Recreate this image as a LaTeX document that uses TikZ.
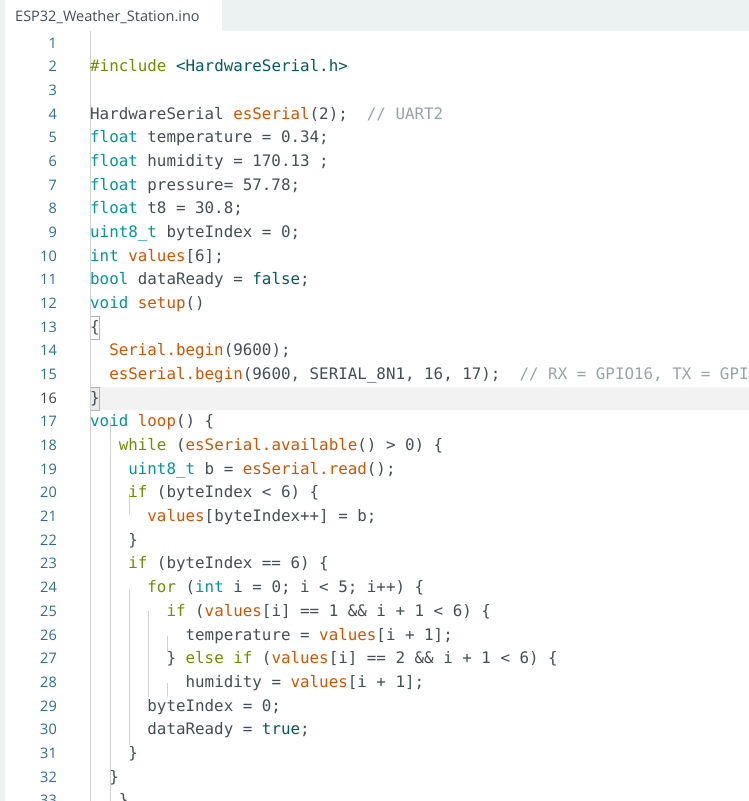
\documentclass[tikz,border=0pt]{standalone}
\usepackage{fontspec}
\setmainfont{Open Sans}
\setmonofont{DejaVu Sans Mono}
\definecolor{txt}{HTML}{434F54}
\definecolor{kwc}{HTML}{00979D}
\definecolor{fnc}{HTML}{D35400}
\definecolor{ppc}{HTML}{728E00}
\definecolor{cmc}{HTML}{95A5A6}
\definecolor{lit}{HTML}{005C5F}
\definecolor{lnc}{HTML}{2E6E8E}
\definecolor{bar}{HTML}{ECF1F1}
\newcommand{\kw}[1]{\textcolor{kwc}{#1}}
\newcommand{\fn}[1]{\textcolor{fnc}{#1}}
\newcommand{\pp}[1]{\textcolor{ppc}{#1}}
\newcommand{\cm}[1]{\textcolor{cmc}{#1}}
\newcommand{\lt}[1]{\textcolor{lit}{#1}}
\begin{document}
\begin{tikzpicture}[x=1pt,y=-1pt,
  code/.style={anchor=base west,inner sep=0pt,font=\ttfamily\fontsize{15.85}{16}\selectfont,text=txt},
  lnum/.style={anchor=base east,inner sep=0pt,font=\fontsize{14.5}{16}\selectfont,text=lnc},
  guide/.style={draw=black!18,line width=0.8pt}]
\useasboundingbox (0,0) rectangle (749,801);
\begin{scope}
\clip (0,0) rectangle (749,801);
\fill[white] (0,0) rectangle (749,801);
\fill[bar] (0,0) rectangle (749,31);
\fill[bar] (0,0) rectangle (5,801);
\fill[white] (5,0) rectangle (222,31);
\node[anchor=base west,inner sep=0pt,font=\fontsize{14.5}{16}\selectfont,text=txt] (tab) at (15,21) {ESP32\_Weather\_Station.ino};
% current line highlight
\fill[black!5] (90,387) rectangle (749,410);
\draw[black!30] (90,316) rectangle (99.5,339);
\draw[black!30,fill=black!8] (90,387) rectangle (99.5,410);
% guides
\draw[guide] (90,31) -- (90,801);
\draw[guide] (110,420) -- (110,801);
\draw[guide] (129,494) -- (129,515);
\draw[guide] (129,589) -- (129,745);
\draw[guide] (148,611) -- (148,697);
\draw[guide] (167,636) -- (167,652);
\draw[guide] (167,683) -- (167,697);
\foreach \i in {1,...,33}{
  \pgfmathsetmacro\yy{48+(\i-1)*23.68}
  \ifnum\i=16
    \node[lnum,text=black!75] (n\i) at (57,\yy) {\i};
  \else
    \node[lnum] (n\i) at (57,\yy) {\i};
  \fi
}
\def\Y#1{48+(#1-1)*23.68}
\node[code] (l2) at (90,{\Y{2}}) {\pp{\#include} \lt{<HardwareSerial.h>}};
\node[code] (l4) at (90,{\Y{4}}) {HardwareSerial \fn{esSerial}(2);\ \ \cm{// UART2}};
\node[code] (l5) at (90,{\Y{5}}) {\kw{float} temperature = 0.34;};
\node[code] (l6) at (90,{\Y{6}}) {\kw{float} humidity = 170.13 ;};
\node[code] (l7) at (90,{\Y{7}}) {\kw{float} pressure= 57.78;};
\node[code] (l8) at (90,{\Y{8}}) {\kw{float} t8 = 30.8;};
\node[code] (l9) at (90,{\Y{9}}) {\kw{uint8\_t} byteIndex = 0;};
\node[code] (l10) at (90,{\Y{10}}) {\kw{int} \fn{values}[6];};
\node[code] (l11) at (90,{\Y{11}}) {\kw{bool} dataReady = \lt{false};};
\node[code] (l12) at (90,{\Y{12}}) {\kw{void} \fn{setup}()};
\node[code] (l13) at (90,{\Y{13}}) {\{};
\node[code] (l14) at (90,{\Y{14}}) {\ \ \fn{Serial.begin}(9600);};
\node[code] (l15) at (90,{\Y{15}}) {\ \ \fn{esSerial.begin}(9600, SERIAL\_8N1, 16, 17);\ \ \cm{// RX = GPIO16, TX = GPIO17}};
\node[code] (l16) at (90,{\Y{16}}) {\}};
\node[code] (l17) at (90,{\Y{17}}) {\kw{void} \fn{loop}() \{};
\node[code] (l18) at (90,{\Y{18}}) {\ \ \ \pp{while} (\fn{esSerial.available}() > 0) \{};
\node[code] (l19) at (90,{\Y{19}}) {\ \ \ \ \kw{uint8\_t} b = \fn{esSerial.read}();};
\node[code] (l20) at (90,{\Y{20}}) {\ \ \ \ \pp{if} (byteIndex < 6) \{};
\node[code] (l21) at (90,{\Y{21}}) {\ \ \ \ \ \ \fn{values}[byteIndex++] = b;};
\node[code] (l22) at (90,{\Y{22}}) {\ \ \ \ \}};
\node[code] (l23) at (90,{\Y{23}}) {\ \ \ \ \pp{if} (byteIndex == 6) \{};
\node[code] (l24) at (90,{\Y{24}}) {\ \ \ \ \ \ \pp{for} (\kw{int} i = 0; i < 5; i++) \{};
\node[code] (l25) at (90,{\Y{25}}) {\ \ \ \ \ \ \ \ \pp{if} (\fn{values}[i] == 1 \&\& i + 1 < 6) \{};
\node[code] (l26) at (90,{\Y{26}}) {\ \ \ \ \ \ \ \ \ \ temperature = \fn{values}[i + 1];};
\node[code] (l27) at (90,{\Y{27}}) {\ \ \ \ \ \ \ \ \} \pp{else if} (\fn{values}[i] == 2 \&\& i + 1 < 6) \{};
\node[code] (l28) at (90,{\Y{28}}) {\ \ \ \ \ \ \ \ \ \ humidity = \fn{values}[i + 1];};
\node[code] (l29) at (90,{\Y{29}}) {\ \ \ \ \ \ byteIndex = 0;};
\node[code] (l30) at (90,{\Y{30}}) {\ \ \ \ \ \ dataReady = \lt{true};};
\node[code] (l31) at (90,{\Y{31}}) {\ \ \ \ \}};
\node[code] (l32) at (90,{\Y{32}}) {\ \ \}};
\node[code] (l33) at (90,{\Y{33}}) {\ \ \ \}};
\end{scope}
\end{tikzpicture}
\end{document}
